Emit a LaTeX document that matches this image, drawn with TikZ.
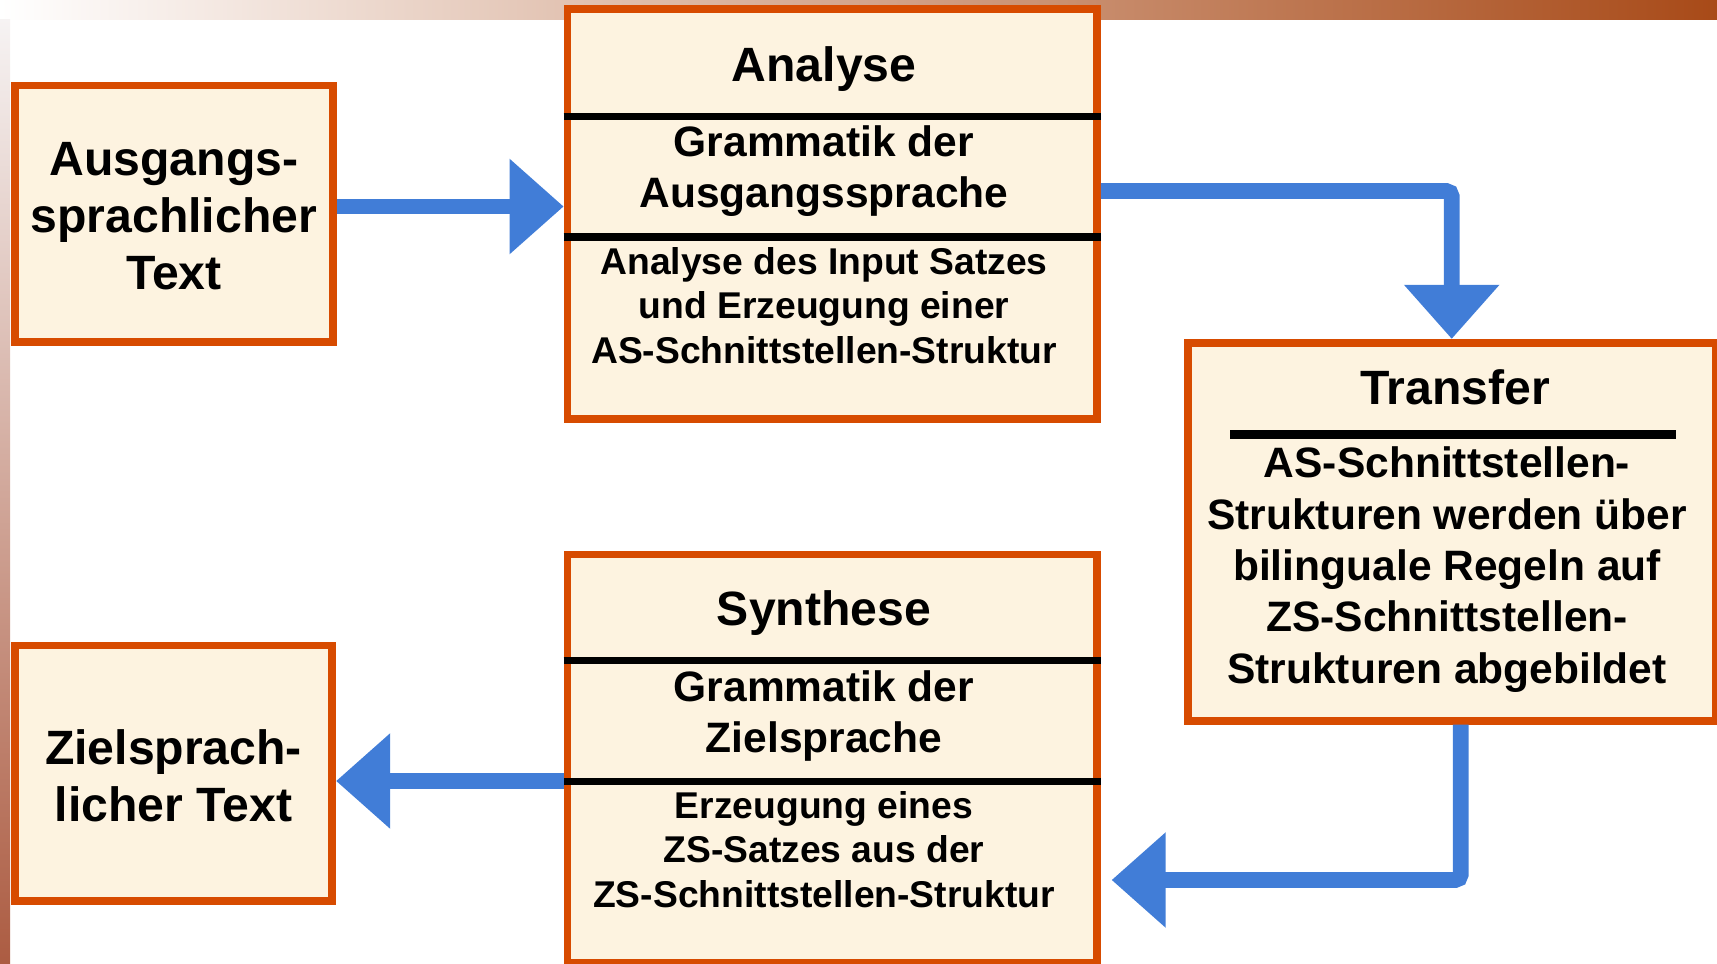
\documentclass[tikz,border=0pt]{standalone}
\usepackage{fontspec}
\setmainfont{Liberation Sans}
\usepackage{tikz}
\usetikzlibrary{calc}
\usetikzlibrary{arrows.meta}
\usepackage{xcolor}
\definecolor{boxline}{RGB}{215,75,0}
\definecolor{boxfill}{RGB}{253,243,224}
\definecolor{flowblue}{RGB}{65,125,215}
\definecolor{stripmid}{RGB}{205,168,160}
\definecolor{stripend}{RGB}{168,74,24}
\definecolor{sidetop}{RGB}{246,243,243}
\definecolor{sidemid}{RGB}{222,198,194}
\definecolor{sidebot}{RGB}{172,92,66}
\tikzset{
  box/.style={draw=boxline, fill=boxfill, line width=2.2pt, inner sep=0pt},
  big/.style={font=\fontsize{13.7}{16.2}\selectfont\bfseries, align=center, anchor=base},
  mid/.style={font=\fontsize{12.1}{14.4}\selectfont\bfseries, align=center, anchor=base},
  small/.style={font=\fontsize{10.6}{12.6}\selectfont\bfseries, align=center, anchor=base},
  flow/.style={draw=flowblue, line width=4.45pt, -{Triangle[length=15.4pt,width=26.2pt]}},
  sepline/.style={line width=2.1pt}
}

\begin{document}
\begin{tikzpicture}[x=0.2845pt,y=-0.2845pt]
    \useasboundingbox (0,0) rectangle (1717,963);
    \shade[left color=white, middle color=stripmid, right color=stripend] (0,0) rectangle (1717,19);
    \shade[top color=sidetop, middle color=sidemid, bottom color=sidebot] (0,19) rectangle (10,963);

    \node[box, minimum width=90.5pt, minimum height=73pt] (T1) at (173.9,213.9) {};
    \node[box, minimum width=90.3pt, minimum height=72.6pt] (T2) at (173.5,773.1) {};
    \node[box, minimum width=150.6pt, minimum height=116.8pt] (M1) at (832.2,214) {};
    \node[box, minimum width=150.1pt, minimum height=107.5pt] (M2) at (1451.7,531.7) {};
    \node[box, minimum width=150.6pt, minimum height=116.2pt] (M3) at (832.2,758.7) {};

    \draw[sepline] (M1.west |- 0,116.5) -- (M1.east |- 0,116.5);
    \draw[sepline] (M1.west |- 0,237) -- (M1.east |- 0,237);
    \draw[sepline] (M3.west |- 0,660.5) -- (M3.east |- 0,660.5);
    \draw[sepline] (M3.west |- 0,781.5) -- (M3.east |- 0,781.5);
    \draw[line width=2.5pt] (1230,434.7) -- (1676,434.7);

    \node[big] (L1) at (173.9,289.5) {Ausgangs-\\sprachlicher\\Text};
    \node[big] (L2) at (173.5,821) {Zielsprach-\\licher Text};
    \node[big] (H1) at (824,81.5) {Analyse};
    \node[mid] (G1) at (824,207.5) {Grammatik der\\Ausgangssprache};
    \node[small] (D1) at (824,363) {Analyse des Input Satzes\\und Erzeugung einer\\AS-Schnittstellen-Struktur};
    \node[big] (H2) at (1455,404) {Transfer};
    \node[mid, font=\fontsize{12.1}{14.6}\selectfont\bfseries] (D2) at (1447,683)
      {AS-Schnittstellen-\\Strukturen werden über\\bilinguale Regeln auf\\ZS-Schnittstellen-\\Strukturen abgebildet};
    \node[big] (H3) at (824,625.5) {Synthese};
    \node[mid] (G3) at (824,752) {Grammatik der\\Zielsprache};
    \node[small] (D3) at (824,907) {Erzeugung eines\\ZS-Satzes aus der\\ZS-Schnittstellen-Struktur};

    \coordinate (E4) at (1111.6,880);
    \draw[flow] (T1.east |- 0,206.5) -- (M1.west |- 0,206.5);
    \draw[flow, rounded corners=1.5pt] (M1.east |- 0,191) -| (M2.north);
    \draw[flow, rounded corners=1.5pt] ($(M2.south)+(9,0)$) |- (E4);
    \draw[flow] (M3.west |- 0,781) -- (T2.east |- 0,781);
  \end{tikzpicture}
\end{document}
